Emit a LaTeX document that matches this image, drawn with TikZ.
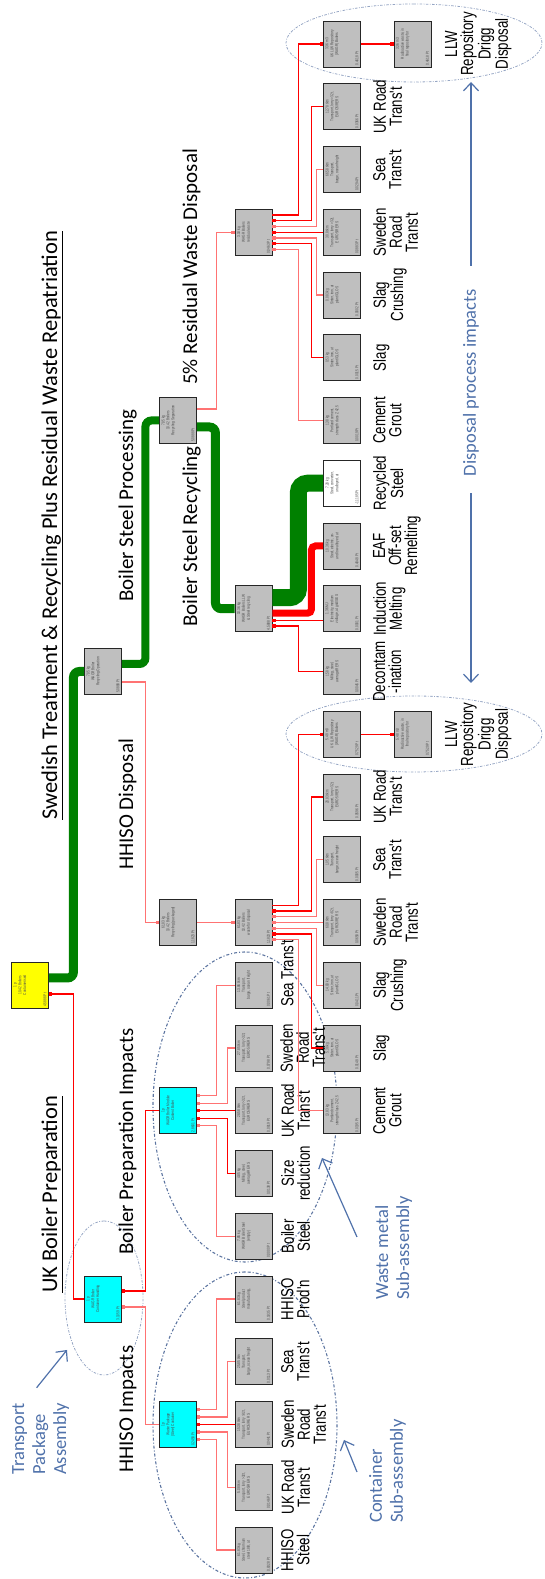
\documentclass[tikz,border=0pt]{standalone}
\usepackage{fontspec}
\setmainfont{Liberation Sans}
\newfontfamily\calfont{Carlito}
\newfontfamily\narrowfont[FakeStretch=0.76]{Liberation Sans}
\usepackage{tikz}
\usetikzlibrary{arrows.meta,calc}
\definecolor{notecol}{RGB}{79,113,170}
\definecolor{grpcol}{RGB}{92,116,160}
\definecolor{llwcol}{RGB}{150,166,196}
\definecolor{boxcyan}{RGB}{0,255,255}
\definecolor{boxyellow}{RGB}{255,255,0}
\newcommand{\boxfont}{\narrowfont\fontsize{4.2}{4.9}\selectfont}
\newcommand{\lblfont}{\narrowfont\fontsize{17.5}{16}\selectfont}
\newcommand{\secfont}{\calfont\fontsize{21}{25}\selectfont}
\newcommand{\ttlfont}{\calfont\fontsize{22.5}{27}\selectfont}
\newcommand{\notefont}{\calfont\fontsize{18.5}{21}\selectfont}
\newcommand{\ptext}[4]{\parbox[c][33pt][s]{43pt}{\centering #1\\#2\\#3\par\vfill\raggedright #4}}

\begin{document}
\begin{tikzpicture}[x=1pt,y=1pt,rotate=90,transform shape]
\tikzstyle{pbox}=[draw=black!85,line width=0.9pt,minimum width=46pt,minimum height=37pt,
  inner sep=0pt,fill=black!25,text=black!70,font=\boxfont]
\tikzstyle{cbox}=[pbox,fill=boxcyan]
\tikzstyle{ybox}=[pbox,fill=boxyellow]
\tikzstyle{wbox}=[pbox,fill=white]
\tikzstyle{lbl}=[font=\lblfont,align=center,anchor=north,inner sep=0pt]
\tikzstyle{sect}=[font=\secfont,anchor=base west,inner sep=0pt]
\tikzstyle{ttl}=[font=\ttlfont,anchor=base west,inner sep=0pt]
\tikzstyle{note}=[font=\notefont,text=notecol,align=left,inner sep=0pt]
\tikzstyle{rl}=[draw=red,line width=1.1pt,-{Square[length=3.4pt,width=3.4pt]}]
\tikzstyle{pl}=[rl,draw=red!55]
\tikzstyle{gl}=[draw=green!50!black,rounded corners=6pt]
\tikzstyle{grp}=[draw=grpcol,line width=1.1pt,dash pattern=on 3pt off 2pt on 1pt off 2pt]
\tikzstyle{llwgrp}=[draw=llwcol,line width=0.8pt,dash pattern=on 2.5pt off 1.5pt on 0.8pt off 1.5pt]
\tikzstyle{notearr}=[draw=notecol,line width=1.2pt,-{Straight Barb[length=8pt,width=15pt]}]

\useasboundingbox (0,0) rectangle (1579,-544);

% groups
\draw[grp] (154,-245) ellipse [x radius=153,y radius=92];
\draw[grp] (472,-245) ellipse [x radius=155,y radius=92];
\draw[llwgrp] (281,-104) ellipse [x radius=77,y radius=39];
\draw[llwgrp] (845,-414) ellipse [x radius=38,y radius=128];
\draw[llwgrp] (1536,-414) ellipse [x radius=39,y radius=128];

% titles
\node[ttl] (t1) at (286,-57) {\underline{UK Boiler Preparation}};
\node[ttl] (t2) at (759,-57) {\underline{Swedish Treatment \& Recycling Plus Residual Waste Repatriation}};
\node[sect] (s1) at (106,-133) {HHISO Impacts};
\node[sect] (s2) at (324,-133) {Boiler Preparation Impacts};
\node[sect] (s3) at (709,-133) {HHISO Disposal};
\node[sect] (s4) at (977,-133) {Boiler Steel Processing};
\node[sect] (s5) at (952,-197) {Boiler Steel Recycling};
\node[sect] (s6) at (1194,-197) {5\% Residual Waste Disposal};

% upper processes
\node[ybox] (yel) at (593.75,-30) {\ptext{1 p}{10.42 Boilers}{Containerised}{4.5888 Pt}};
\node[cbox] (tpa) at (280,-103) {\ptext{1 p}{WAGR Boiler}{Container Handling}{3.1059 Pt}};
\node[pbox] (rop) at (907.5,-103) {\ptext{7.85 kg}{WAGR Boiler}{Recycling Operation}{5.0888 Pt}};
\node[cbox] (wpk) at (154.5,-178) {\ptext{1 p}{Waste Package}{(Steel) Container}{0.2458 Pt}};
\node[cbox] (bpr) at (468.25,-178) {\ptext{1 p}{WAGR Boiler Module}{Content Boiler}{2.8601 Pt}};
\node[pbox] (hdr) at (656.5,-178) {\ptext{61.83 kg}{10.42 Boilers}{Recycling (packaged)}{1.1823 Pt}};
\node[pbox] (bsp) at (1158.5,-178) {\ptext{7.85 kg}{10.42 Boilers}{Recycling Separation}{5.0888 Pt}};

% preparation impacts
\node[pbox] (hst) at (29,-253.5) {\ptext{61.83 kg}{Steel, chromium}{steel 18/8, at}{0.8328 Pt}};
\node[pbox] (ukr1) at (91.75,-253.5) {\ptext{5.08 tkm}{Transport, lorry >32t,}{EURO5/RER S}{0.0146 Pt}};
\node[pbox] (swr1) at (154.5,-253.5) {\ptext{15.38 tkm}{Transport, lorry >32t,}{EURO5/RER S}{0.0441 Pt}};
\node[pbox] (sea1) at (217.25,-253.5) {\ptext{25.85 tkm}{Transport,}{barge, ocean freight}{0.0113 Pt}};
\node[pbox] (hpr) at (280,-253.5) {\ptext{61.83 kg}{Steel product}{manufacturing,}{0.1835 Pt}};
\node[pbox] (bst) at (342.75,-253.5) {\ptext{7.85 kg}{WAGR Boiler Steel}{(empty)}{0.0000 Pt}};
\node[pbox] (szr) at (405.5,-253.5) {\ptext{4.85 kg}{Milling, steel,}{average/RER S}{0.0138 Pt}};
\node[pbox] (ukr2) at (468.25,-253.5) {\ptext{28.58 tkm}{Transport, lorry >32t,}{EURO5/RER S}{0.0819 Pt}};
\node[pbox] (swr2) at (531,-253.5) {\ptext{27.85 tkm}{Transport, lorry >32t,}{EURO5/RER S}{0.0798 Pt}};
\node[pbox] (sea2) at (593.75,-253.5) {\ptext{13.86 tkm}{Transport,}{barge, ocean freight}{0.0061 Pt}};

% hubs
\node[pbox] (hdh) at (656.5,-253.5) {\ptext{61.83 kg}{10.42 Boilers}{waste for disposal}{1.1823 Pt}};
\node[pbox] (rch) at (970.25,-253.5) {\ptext{10.36 kg}{WAGR Boilers LLW}{\& Steel recycling}{4.5888 Pt}};
\node[pbox] (rsh) at (1346.75,-253.5) {\ptext{3.18 kg}{WAGR Boilers}{residual waste}{0.0463 Pt}};

% disposal impacts
\node[pbox] (cg1) at (468.25,-342) {\ptext{13.83 kg}{Portland cement,}{strength class Z 42.5}{0.0195 Pt}};
\node[pbox] (sl1) at (531,-342) {\ptext{5.38 kg}{Sinter, iron, at}{plant/GLO S}{0.0148 Pt}};
\node[pbox] (sc1) at (593.75,-342) {\ptext{14.83 kg}{Sinter, iron, at}{plant/GLO S}{0.0411 Pt}};
\node[pbox] (sw3) at (656.5,-342) {\ptext{60.8 tkm}{Transport, lorry >32t,}{EURO5/RER S}{0.0658 Pt}};
\node[pbox] (se3) at (719.25,-342) {\ptext{1.05 tkm}{Transport,}{barge, ocean freight}{0.0005 Pt}};
\node[pbox] (uk3) at (782,-342) {\ptext{20.83 tkm}{Transport, lorry >32t,}{EURO5/RER S}{0.0596 Pt}};
\node[pbox] (llw1) at (844.75,-342) {\ptext{5.48 m3}{UK LLW Repository}{(WAGR) Boilers}{0.7529 Pt}};
\node[pbox] (lr1) at (844.75,-412.5) {\ptext{5.48 m3}{Radioactive waste, in}{final repository for}{0.7529 Pt}};

% recycling impacts
\node[pbox] (dec) at (907.5,-342) {\ptext{1.58 kg}{Milling, steel,}{average/RER S}{0.0045 Pt}};
\node[pbox] (ind) at (970.25,-342) {\ptext{1.36 MJ}{Electricity, medium}{voltage, at grid/SE S}{0.0001 Pt}};
\node[pbox] (eaf) at (1033,-342) {\ptext{10.36 kg}{Steel, electric, un-}{and low-alloyed, at}{0.4848 Pt}};
\node[wbox] (rst) at (1095.75,-342) {\ptext{7.28 kg}{Steel, converter,}{unalloyed, at}{-1.1185 Pt}};

% residual impacts
\node[pbox] (cg2) at (1158.5,-342) {\ptext{1.38 kg}{Portland cement,}{strength class Z 42.5}{0.0019 Pt}};
\node[pbox] (sl2) at (1221.25,-342) {\ptext{0.53 kg}{Sinter, iron, at}{plant/GLO S}{0.0015 Pt}};
\node[pbox] (sc2) at (1284,-342) {\ptext{0.083 kg}{Sinter, iron, at}{plant/GLO S}{0.0002 Pt}};
\node[pbox] (sw4) at (1346.75,-342) {\ptext{30.8 tkm}{Transport, lorry >32t,}{EURO5/RER S}{0.0883 Pt}};
\node[pbox] (se4) at (1409.5,-342) {\ptext{66.58 tkm}{Transport,}{barge, ocean freight}{0.0294 Pt}};
\node[pbox] (uk4) at (1472.25,-342) {\ptext{12.78 tkm}{Transport, lorry >32t,}{EURO5/RER S}{0.0366 Pt}};
\node[pbox] (llw2) at (1535,-342) {\ptext{3.36 m3}{UK LLW Repository}{(WAGR) Boilers}{0.4618 Pt}};
\node[pbox] (lr2) at (1535,-412.5) {\ptext{3.36 m3}{Radioactive waste, in}{final repository for}{0.4618 Pt}};

% labels
\node[lbl] (hstl) at (hst |- 0,-281) {HHISO\\Steel};
\node[lbl] (ukr1l) at (ukr1 |- 0,-281) {UK Road\\Trans't};
\node[lbl] (swr1l) at (swr1 |- 0,-281) {Sweden\\Road\\Trans't};
\node[lbl] (sea1l) at (sea1 |- 0,-281) {Sea\\Trans't};
\node[lbl] (hprl) at (hpr |- 0,-281) {HHISO\\Prod'n};
\node[lbl] (bstl) at (bst |- 0,-281) {Boiler\\Steel};
\node[lbl] (szrl) at (szr |- 0,-281) {Size\\reduction};
\node[lbl] (ukr2l) at (ukr2 |- 0,-281) {UK Road\\Trans't};
\node[lbl] (swr2l) at (swr2 |- 0,-280) {Sweden\\Road\\Trans't};
\node[lbl] (sea2l) at (606,-281) {Sea Trans't};
\node[lbl] (cg1l) at (cg1 |- 0,-373) {Cement\\Grout};
\node[lbl] (sl1l) at (sl1 |- 0,-373) {Slag};
\node[lbl] (sc1l) at (sc1 |- 0,-373) {Slag\\Crushing};
\node[lbl] (sw3l) at (sw3 |- 0,-373) {Sweden\\Road\\Trans't};
\node[lbl] (se3l) at (se3 |- 0,-373) {Sea\\Trans't};
\node[lbl] (uk3l) at (uk3 |- 0,-373) {UK Road\\Trans't};
\node[lbl] (lr1l) at (lr1 |- 0,-445) {LLW\\Repository\\Drigg\\Disposal};
\node[lbl] (decl) at (dec |- 0,-373) {Decontam\\-ination};
\node[lbl] (indl) at (ind |- 0,-373) {Induction\\Melting};
\node[lbl] (eafl) at (eaf |- 0,-373) {EAF\\Off-set\\Remelting};
\node[lbl] (rstl) at (rst |- 0,-373) {Recycled\\Steel};
\node[lbl] (cg2l) at (cg2 |- 0,-373) {Cement\\Grout};
\node[lbl] (sl2l) at (sl2 |- 0,-373) {Slag};
\node[lbl] (sc2l) at (sc2 |- 0,-373) {Slag\\Crushing};
\node[lbl] (sw4l) at (sw4 |- 0,-373) {Sweden\\Road\\Trans't};
\node[lbl] (se4l) at (se4 |- 0,-373) {Sea\\Trans't};
\node[lbl] (uk4l) at (uk4 |- 0,-373) {UK Road\\Trans't};
\node[lbl] (lr2l) at (lr2 |- 0,-445) {LLW\\Repository\\Drigg\\Disposal};

% HHISO impacts
\draw[pl] (hst.north) |- ($(wpk.south)+(-15,-19.5)$) -- ($(wpk.south)+(-15,0)$);
\draw[pl] (ukr1.north) |- ($(wpk.south)+(-7.5,-30.5)$) -- ($(wpk.south)+(-7.5,0)$);
\draw[rl] (swr1.north) -- (wpk.south);
\draw[pl] (sea1.north) |- ($(wpk.south)+(7.5,-30.5)$) -- ($(wpk.south)+(7.5,0)$);
\draw[pl] (hpr.north) |- ($(wpk.south)+(15,-19.5)$) -- ($(wpk.south)+(15,0)$);
% boiler preparation impacts
\draw[pl] (bst.north) |- ($(bpr.south)+(-15,-19.5)$) -- ($(bpr.south)+(-15,0)$);
\draw[rl] (szr.north) |- ($(bpr.south)+(-7.5,-30.5)$) -- ($(bpr.south)+(-7.5,0)$);
\draw[rl] (ukr2.north) -- (bpr.south);
\draw[pl] (swr2.north) |- ($(bpr.south)+(7.5,-30.5)$) -- ($(bpr.south)+(7.5,0)$);
\draw[pl] (sea2.north) |- ($(bpr.south)+(15,-19.5)$) -- ($(bpr.south)+(15,0)$);
% assembly
\draw[pl] (wpk.north) |- ($(tpa.south)+(-8,-23.5)$) -- ($(tpa.south)+(-8,0)$);
\draw[rl] (bpr.north) |- ($(tpa.south)+(8,-23.5)$) -- ($(tpa.south)+(8,0)$);
\draw[rl] (tpa.north) |- ($(yel.south)+(-8.75,-24.5)$) -- ($(yel.south)+(-8.75,0)$);

% main steel flow
\draw[gl,line width=9pt] ($(yel.south)+(7.25,0)$) -- ++(0,-24.5) -| (rop.north);
\draw[gl,line width=8pt] ($(rop.south)+(7.5,0)$) -- ++(0,-23.5) -| (bsp.north);
\draw[gl,line width=9pt] ($(bsp.south)+(-6.5,0)$) -- ++(0,-18.5) -| (rch.north);
\draw[gl,line width=17pt,rounded corners=9pt] ($(rch.south)+(11,0)$) -- ++(0,-26) -| (rst.north);
\draw[draw=red,line width=7pt,rounded corners=4pt] ($(rch.south)+(-4.5,0)$) -- ++(0,-39) -| (eaf.north);

% HHISO disposal
\draw[pl] ($(rop.south)+(-10.5,0)$) -- ++(0,-23.5) -| (hdr.north);
\draw[pl] (hdr.south) -- (hdh.north);
\draw[pl] (cg1.north) |- ($(hdh.south)+(-17.25,-26)$) -- ($(hdh.south)+(-17.25,0)$);
\draw[rl] (sl1.north) |- ($(hdh.south)+(-11.5,-39)$) -- ($(hdh.south)+(-11.5,0)$);
\draw[pl] (sc1.north) |- ($(hdh.south)+(-5.75,-44)$) -- ($(hdh.south)+(-5.75,0)$);
\draw[pl] (sw3.north) -- (hdh.south);
\draw[pl] (se3.north) |- ($(hdh.south)+(5.75,-44)$) -- ($(hdh.south)+(5.75,0)$);
\draw[rl] (uk3.north) |- ($(hdh.south)+(11.5,-39)$) -- ($(hdh.south)+(11.5,0)$);
\draw[rl] ($(hdh.south)+(17.25,0)$) -- ++(0,-26) -| (llw1.north);
\draw[rl] (llw1.south) -- (lr1.north);

% recycling
\draw[rl] (dec.north) |- ($(rch.south)+(-17.25,-26)$) -- ($(rch.south)+(-17.25,0)$);
\draw[rl] ($(ind.north)+(-12,0)$) -- ($(rch.south)+(-12,0)$);

% residual waste
\draw[pl] ($(bsp.south)+(11.5,0)$) -- ++(0,-19.5) -| (rsh.north);
\draw[pl] (cg2.north) |- ($(rsh.south)+(-17.25,-26)$) -- ($(rsh.south)+(-17.25,0)$);
\draw[rl] (sl2.north) |- ($(rsh.south)+(-11.5,-39)$) -- ($(rsh.south)+(-11.5,0)$);
\draw[pl] (sc2.north) |- ($(rsh.south)+(-5.75,-44)$) -- ($(rsh.south)+(-5.75,0)$);
\draw[rl] (sw4.north) -- (rsh.south);
\draw[pl] (se4.north) |- ($(rsh.south)+(5.75,-44)$) -- ($(rsh.south)+(5.75,0)$);
\draw[rl] (uk4.north) |- ($(rsh.south)+(11.5,-39)$) -- ($(rsh.south)+(11.5,0)$);
\draw[rl] ($(rsh.south)+(17.25,0)$) -- ++(0,-26) -| (llw2.north);
\draw[rl] (llw2.south) -- (lr2.north);

% notes
\node[note,anchor=north west] (tpan) at (104,-12) {Transport\\Package\\Assembly};
\node[note,anchor=north west] (csan) at (56,-369) {Container\\Sub-assembly};
\node[note,anchor=north west] (wman) at (279,-375) {Waste metal\\Sub-assembly};
\node[note] (dpin) at (1196.5,-471) {Disposal process impacts};
\coordinate (tpat) at (229,-67);
\coordinate (csat) at (139,-344);
\coordinate (wmat) at (421,-322);
\coordinate (dpr) at (1497,-471);
\coordinate (dpl) at (896,-471);
\draw[notearr] ($(tpan.east)+(15,4)$) -- (tpat);
\draw[notearr] ($(csan.north west)+(51,12)$) -- (csat);
\draw[notearr] ($(wman.north west)+(63,18)$) -- (wmat);
\draw[notearr] ($(dpin.east)+(23,0)$) -- (dpr);
\draw[notearr] ($(dpin.west)+(-17,0)$) -- (dpl);
\end{tikzpicture}
\end{document}
